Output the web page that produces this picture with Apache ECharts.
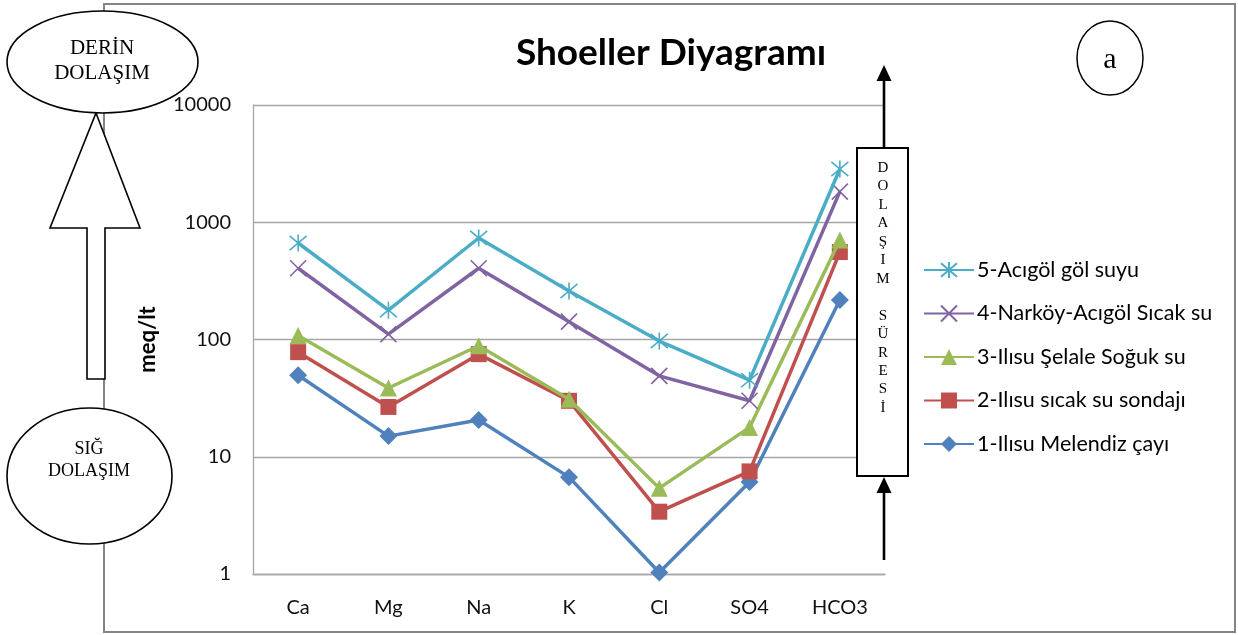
<!DOCTYPE html>
<html>
<head>
<meta charset="utf-8">
<script src="https://cdn.jsdelivr.net/npm/echarts@6/dist/echarts.min.js"></script>
<style>
html,body{margin:0;padding:0;background:#fff;}
#chart{width:1238px;height:635px;}
</style>
</head>
<body>
<div id="chart"></div>
<script>
var categories = ['Ca', 'Mg', 'Na', 'K', 'Cl', 'SO4', 'HCO3'];
var yTicks = [1, 10, 100, 1000, 10000];
var seriesNames = [
  '1-Ilısu Melendiz çayı',
  '2-Ilısu sıcak su sondajı',
  '3-Ilısu Şelale Soğuk su',
  '4-Narköy-Acıgöl Sıcak su',
  '5-Acıgöl göl suyu'
];
var s1 = [49.5, 15, 20.6, 6.7, 1.03, 6.1, 217];
var s2 = [78, 26.6, 75, 30, 3.4, 7.5, 557];
var s3 = [108, 38.6, 88.5, 31, 5.4, 17.8, 706];
var s4 = [405, 111, 405, 142, 49, 30, 1823];
var s5 = [665, 178, 734, 259, 97, 45, 2846];
var boxLetters = ['D','O','L','A','Ş','I','M','','S','Ü','R','E','S','İ'];

var colors = ['#4F81BD', '#C0504D', '#9BBB59', '#8064A2', '#4BACC6'];
var seriesData = [s1, s2, s3, s4, s5];
var symbols = ['diamond', 'rect', 'triangle',
  'path://M0,0L10,10M10,0L0,10',
  'path://M0,0L10,10M10,0L0,10M5,-1L5,11'];
var symbolSizes = [18, 16, 17, 16, 17];

var chart = echarts.init(document.getElementById('chart'), null, {renderer: 'canvas'});

var series = seriesData.map(function (d, i) {
  var isStroke = i >= 3;
  return {
    name: seriesNames[i],
    type: 'line',
    data: d,
    symbol: symbols[i],
    symbolSize: symbolSizes[i],
    showAllSymbol: true,
    lineStyle: {color: colors[i], width: 3.5},
    itemStyle: isStroke ? {color: colors[i], borderColor: colors[i], borderWidth: 1.6}
                        : {color: colors[i], borderWidth: 0},
    emphasis: {disabled: true},
    animation: false,
    z: 3 + i
  };
});

var grayBorder = '#858585';
var option = {
  animation: false,
  title: {
    text: 'Shoeller Diyagramı',
    left: 666, top: 30, textAlign: 'center',
    textStyle: {fontFamily: 'Lato', fontWeight: 'bold', fontSize: 37, color: '#000'}
  },
  grid: {left: 253, right: 353, top: 105, bottom: 61, containLabel: false},
  legend: {
    orient: 'vertical',
    left: 918, top: 254,
    itemWidth: 50, itemHeight: 20, itemGap: 21.5,
    data: seriesNames.slice().reverse(),
    textStyle: {fontFamily: 'Lato', fontSize: 21.5, color: '#000', padding: [0,0,0,-2]},
    selectedMode: false
  },
  xAxis: {
    type: 'category',
    data: categories,
    boundaryGap: true,
    axisLine: {show: true, lineStyle: {color: '#a6a6a6', width: 1.3}},
    axisTick: {show: false},
    axisLabel: {fontFamily: 'Lato', fontSize: 20, color: '#111', margin: 24}
  },
  yAxis: {
    type: 'log',
    logBase: 10,
    min: yTicks[0],
    max: yTicks[yTicks.length - 1],
    name: 'meq/lt',
    nameLocation: 'middle',
    nameRotate: 90,
    nameGap: 94,
    nameTextStyle: {fontFamily: 'Lato', fontWeight: 'bold', fontSize: 22, color: '#000'},
    axisLine: {show: true, lineStyle: {color: '#a6a6a6', width: 1.3}},
    axisTick: {show: false},
    splitLine: {show: true, lineStyle: {color: '#a6a6a6', width: 1.3}},
    axisLabel: {
      fontFamily: 'Lato', fontSize: 20, color: '#111', margin: 22,
      formatter: function (v) { return String(Math.round(v)); }
    }
  },
  series: series,
  graphic: [
    {type: 'rect', z: 0, silent: true,
     shape: {x: 104, y: 4, width: 1131, height: 628},
     style: {fill: 'none', stroke: grayBorder, lineWidth: 2}},
    {type: 'line', z: 20, silent: true,
     shape: {x1: 884, y1: 148, x2: 884, y2: 78},
     style: {stroke: '#000', lineWidth: 2.6}},
    {type: 'polygon', z: 20, silent: true,
     shape: {points: [[884, 65], [891.5, 81], [876.5, 81]]},
     style: {fill: '#000'}},
    {type: 'rect', z: 20, silent: true,
     shape: {x: 857, y: 148, width: 51, height: 328},
     style: {fill: '#fff', stroke: '#000', lineWidth: 2}},
    {type: 'text', z: 21, silent: true,
     x: 883, y: 158.8,
     style: {text: boxLetters.join('\n'), fontFamily: 'Liberation Serif', fontSize: 15,
             lineHeight: 18.46, fill: '#000', align: 'center', verticalAlign: 'top'}},
    {type: 'line', z: 20, silent: true,
     shape: {x1: 884, y1: 490, x2: 884, y2: 560},
     style: {stroke: '#000', lineWidth: 2.6}},
    {type: 'polygon', z: 20, silent: true,
     shape: {points: [[884, 477], [891.5, 493], [876.5, 493]]},
     style: {fill: '#000'}},
    {type: 'ellipse', z: 20, silent: true,
     shape: {cx: 1110, cy: 58, rx: 33, ry: 37},
     style: {fill: '#fff', stroke: '#000', lineWidth: 1.5}},
    {type: 'text', z: 21, silent: true, x: 1110, y: 60,
     style: {text: 'a', fontFamily: 'Liberation Serif', fontSize: 30, fill: '#000',
             align: 'center', verticalAlign: 'middle'}},
    {type: 'polygon', z: 19, silent: true,
     shape: {points: [[96, 113], [140, 228], [105, 228], [105, 379], [87, 379], [87, 228], [50, 228]]},
     style: {fill: '#fff', stroke: '#000', lineWidth: 1.6}},
    {type: 'ellipse', z: 20, silent: true,
     shape: {cx: 102.5, cy: 62, rx: 95.5, ry: 51},
     style: {fill: '#fff', stroke: '#000', lineWidth: 1.6}},
    {type: 'text', z: 21, silent: true, x: 102, y: 60.5,
     style: {text: 'DERİN\nDOLAŞIM', fontFamily: 'Liberation Serif', fontSize: 21,
             lineHeight: 25, fill: '#000', align: 'center', verticalAlign: 'middle'}},
    {type: 'ellipse', z: 20, silent: true,
     shape: {cx: 89.5, cy: 476, rx: 82.5, ry: 68},
     style: {fill: '#fff', stroke: '#000', lineWidth: 1.6}},
    {type: 'text', z: 21, silent: true, x: 89, y: 460,
     style: {text: 'SIĞ\nDOLAŞIM', fontFamily: 'Liberation Serif', fontSize: 18,
             lineHeight: 22, fill: '#000', align: 'center', verticalAlign: 'middle'}}
  ]
};
chart.setOption(option);
</script>
</body>
</html>
